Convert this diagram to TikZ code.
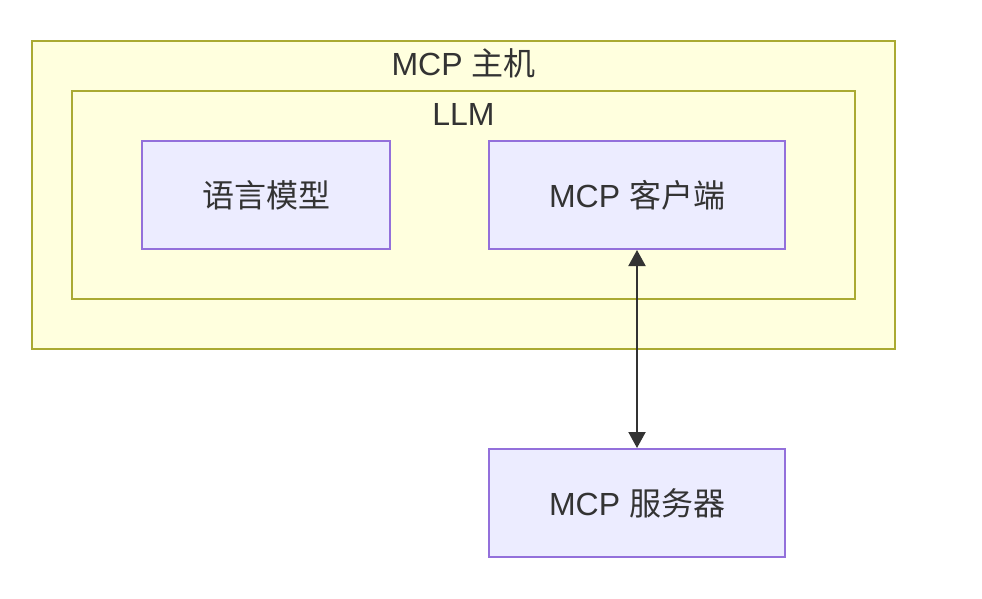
\documentclass[tikz,border=0pt]{standalone}
\usepackage{fontspec}
\usepackage{tikz}
\usepackage{xcolor}
\usetikzlibrary{arrows.meta}
\setmainfont{Liberation Sans}
\newfontfamily\cjk{Noto Sans CJK SC}
\definecolor{groupfill}{HTML}{FFFFDE}
\definecolor{groupline}{HTML}{AAAA33}
\definecolor{nodefill}{HTML}{ECECFF}
\definecolor{nodeline}{HTML}{9370DB}
\definecolor{edgeline}{HTML}{333333}
\tikzset{
    group-box/.style = {draw=groupline, fill=groupfill, line width=2pt, rectangle, inner sep=0pt},
    group-title/.style = {text=black!80, font=\fontsize{32}{38}\selectfont, inner sep=0pt},
    part-box/.style = {draw=nodeline, fill=nodefill, line width=2pt, rectangle, minimum height=108pt, text=black!80, font=\fontsize{32}{38}\selectfont},
    link/.style = {draw=edgeline, line width=2pt, {Triangle[length=16pt,width=17pt]}-{Triangle[length=16pt,width=17pt]}},
}
\begin{document}
\begin{tikzpicture}[x=1pt,y=-1pt]
\useasboundingbox (0,0) rectangle (982,598);
% host and llm groups
\node [group-box, minimum width=863pt, minimum height=308pt] (host) at (463.5,195) {};
\node [group-title] (host-title) at (463.5,63) {MCP {\cjk 主机}};
\node [group-box, minimum width=783pt, minimum height=208pt] (llm) at (463.5,195) {};
\node [group-title] (llm-title) at (463.5,114) {LLM};
% parts
\node [part-box, minimum width=248pt] (model) at (266,195) {\cjk 语言模型};
\node [part-box, minimum width=296pt] (client) at (637,195) {MCP {\cjk 客户端}};
\node [part-box, minimum width=296pt] (server) at (637,503) {MCP {\cjk 服务器}};
\draw [link] (client) -- (server);
\end{tikzpicture}
\end{document}
